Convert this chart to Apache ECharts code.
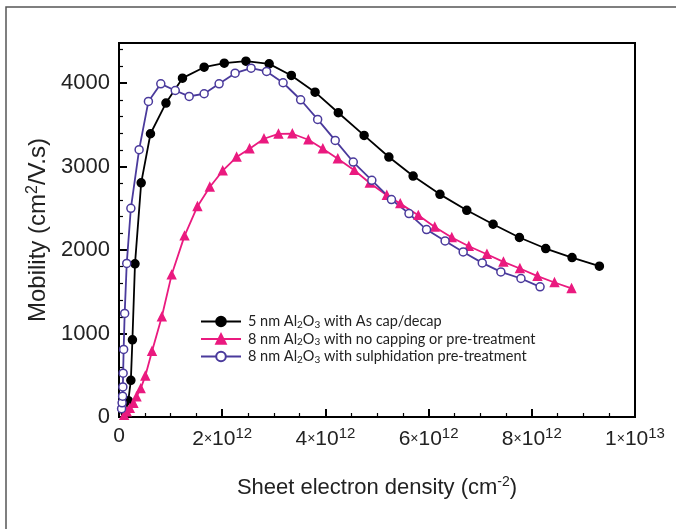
<!DOCTYPE html>
<html><head><meta charset="utf-8">
<script src="https://cdn.jsdelivr.net/npm/echarts@6/dist/echarts.min.js"></script>
<style>html,body{margin:0;padding:0;background:#fff}#c{width:676px;height:529px}</style>
</head><body><div id="c"></div>
<script>
// x in cm^-2, y in cm^2/V.s
const blackData = [[0.12e12,50],[0.18e12,195],[0.23e12,440],[0.26e12,925],[0.31e12,1835],[0.43e12,2805],[0.61e12,3393],[0.91e12,3760],[1.23e12,4059],[1.65e12,4190],[2.04e12,4238],[2.46e12,4262],[2.91e12,4230],[3.34e12,4091],[3.80e12,3891],[4.25e12,3645],[4.75e12,3373],[5.23e12,3114],[5.70e12,2886],[6.22e12,2667],[6.74e12,2476],[7.25e12,2309],[7.76e12,2150],[8.27e12,2018],[8.78e12,1910],[9.31e12,1806]];
const pinkData = [[0.10e12,20],[0.15e12,63],[0.21e12,104],[0.28e12,164],[0.34e12,243],[0.42e12,340],[0.51e12,492],[0.64e12,787],[0.83e12,1200],[1.02e12,1703],[1.27e12,2170],[1.52e12,2522],[1.76e12,2755],[2.01e12,2950],[2.28e12,3114],[2.53e12,3214],[2.81e12,3333],[3.09e12,3391],[3.36e12,3393],[3.67e12,3321],[3.95e12,3214],[4.24e12,3094],[4.56e12,2955],[4.86e12,2803],[5.19e12,2656],[5.45e12,2556],[5.80e12,2416],[6.12e12,2276],[6.45e12,2150],[6.78e12,2045],[7.13e12,1950],[7.45e12,1858],[7.77e12,1779],[8.11e12,1687],[8.44e12,1611],[8.77e12,1540]];
const blueData = [[0.05e12,100],[0.06e12,170],[0.07e12,250],[0.075e12,360],[0.08e12,525],[0.09e12,810],[0.11e12,1240],[0.15e12,1840],[0.23e12,2500],[0.39e12,3202],[0.57e12,3780],[0.81e12,3991],[1.09e12,3911],[1.36e12,3840],[1.65e12,3872],[1.94e12,3991],[2.25e12,4118],[2.56e12,4178],[2.86e12,4139],[3.18e12,4004],[3.52e12,3800],[3.85e12,3565],[4.19e12,3313],[4.54e12,3054],[4.90e12,2835],[5.28e12,2604],[5.62e12,2437],[5.96e12,2245],[6.32e12,2109],[6.67e12,1977],[7.04e12,1846],[7.40e12,1738],[7.79e12,1659],[8.16e12,1559]];
const seriesNames = ['5 nm Al2O3 with As cap/decap','8 nm Al2O3 with no capping or pre-treatment','8 nm Al2O3 with sulphidation pre-treatment'];
const legendTails = [' with As cap/decap',' with no capping or pre-treatment',' with sulphidation pre-treatment'];
const legendHeads = ['5 nm Al','8 nm Al','8 nm Al'];
const xTickValues = [0, 2e12, 4e12, 6e12, 8e12, 1e13];
const xTickMant = ['0','2','4','6','8','1'];
const xTickExp = ['','12','12','12','12','13'];
const yTicks = [0,1000,2000,3000,4000];

const chart = echarts.init(document.getElementById('c'));
const axisFont = 'Liberation Sans';
const mk = (name, data, color, symbol, size, fill) => ({
  name, type:'line', data, symbol, symbolSize:size, showSymbol:true,
  lineStyle:{color, width:1.8}, itemStyle:{color: fill, borderColor: color, borderWidth: 1.5},
  z: 3
});
chart.setOption({
  animation:false,
  backgroundColor:'#fff',
  graphic:[{type:'rect', shape:{x:6,y:7,width:700,height:540}, style:{fill:'none',stroke:'#555',lineWidth:1.5}, silent:true}],
  grid:{left:119, right:41, top:43, bottom:112, show:true, borderColor:'#000', borderWidth:2, backgroundColor:'transparent'},
  legend:{
    orient:'vertical', left:195, top:309, itemWidth:40, itemHeight:12, itemGap:2,
    data: seriesNames,
    textStyle:{fontFamily:'Lato', fontSize:14.5, color:'#222', padding:[0,0,0,2],
      rich:{a:{fontFamily:'Lato',fontSize:14.5,color:'#222'}, s:{fontFamily:'Lato',fontSize:10,color:'#222',padding:[6,0,0,0]}}},
    formatter: (n) => { const i = seriesNames.indexOf(n); return '{a|'+legendHeads[i]+'}{s|2}{a|O}{s|3}{a|'+legendTails[i]+'}'; }
  },
  xAxis:{
    type:'value', min:0, max:1e13, interval:2e12,
    name:'{t|Sheet electron density (cm}{u|-2}{t|)}', nameLocation:'middle', nameGap:58,
    nameTextStyle:{rich:{t:{fontFamily:axisFont,fontSize:22,color:'#222'}, u:{fontFamily:axisFont,fontSize:14,color:'#222',padding:[0,0,11,0]}}},
    axisLine:{lineStyle:{color:'#000',width:2}},
    axisTick:{inside:true,length:8,lineStyle:{color:'#000',width:2}},
    minorTick:{show:true,splitNumber:4,length:4,lineStyle:{color:'#000',width:1.2}},
    splitLine:{show:false},
    axisLabel:{margin:9, formatter:(v)=>{const i = xTickValues.findIndex(t=>Math.abs(t-v)<1); if(i<0) return ''; if(i===0) return '{m|0}'; return '{m|'+xTickMant[i]+'}{x|×}{m|10}{e|'+xTickExp[i]+'}';},
      rich:{m:{fontFamily:axisFont,fontSize:21,color:'#222'}, x:{fontFamily:axisFont,fontSize:14,color:'#222'}, e:{fontFamily:axisFont,fontSize:15,color:'#222',padding:[0,0,11,0]}}}
  },
  yAxis:{
    type:'value', min:0, max:4480, interval:1000,
    name:'{t|Mobility (cm}{u|2}{t|/V.s)}', nameLocation:'middle', nameGap:66, nameRotate:90,
    nameTextStyle:{rich:{t:{fontFamily:axisFont,fontSize:24,color:'#222'}, u:{fontFamily:axisFont,fontSize:16,color:'#222',padding:[0,0,12,0]}}},
    axisLine:{lineStyle:{color:'#000',width:2}},
    axisTick:{inside:true,length:8,lineStyle:{color:'#000',width:2}},
    minorTick:{show:true,splitNumber:5,length:4,lineStyle:{color:'#000',width:1.2}},
    splitLine:{show:false},
    axisLabel:{margin:9, showMaxLabel:false, fontFamily:axisFont, fontSize:22, color:'#222',
      formatter:(v)=> yTicks.includes(v) ? String(v) : ''}
  },
  series:[
    mk(seriesNames[0], blackData, '#000', 'circle', 8, '#000'),
    mk(seriesNames[1], pinkData, '#ea1a7f', 'triangle', 8, '#ea1a7f'),
    mk(seriesNames[2], blueData, '#4a3a9c', 'circle', 8, '#fff')
  ]
});
</script></body></html>
